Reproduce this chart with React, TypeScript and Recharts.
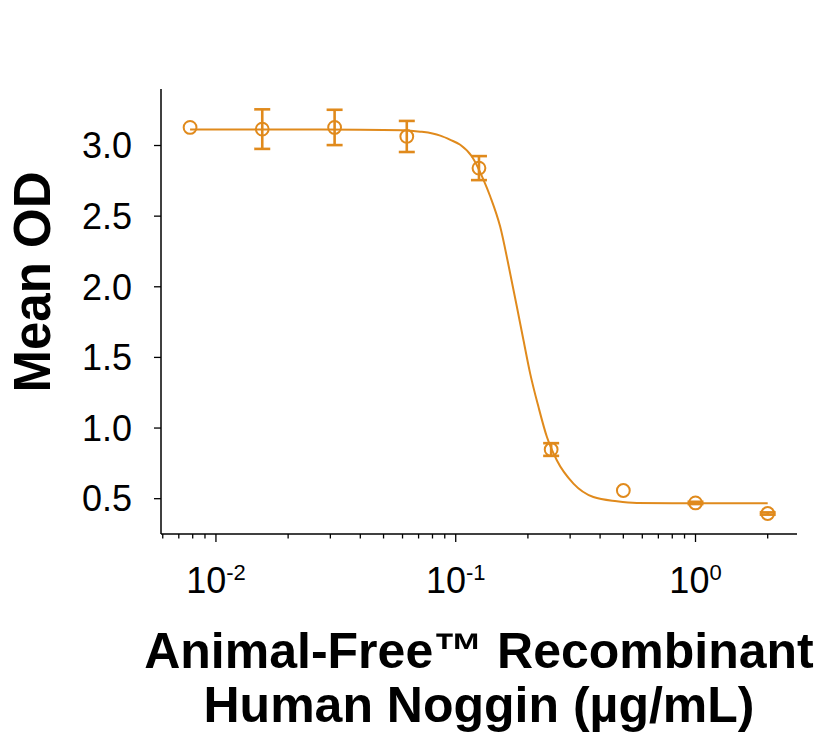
import { ComposedChart, Line, Scatter, ErrorBar, XAxis, YAxis } from 'recharts';

const ORANGE = '#E08A1C';
const FONT = '"Liberation Sans", Arial, Helvetica, sans-serif';

// measured points: dose (µg/mL), mean OD, error
const doses = [0.0078, 0.0156, 0.03125, 0.0625, 0.125, 0.25, 0.5, 1, 2];
const meanOD = [3.128, 3.116, 3.128, 3.064, 2.84, 0.848, 0.558, 0.47, 0.395];
const errOD = [0, 0.14, 0.125, 0.11, 0.085, 0.045, 0, 0.008, 0.008];

// fitted curve
const fitDose = [
  0.0078, 0.02, 0.04, 0.06, 0.0711, 0.08, 0.0862, 0.095, 0.1044, 0.1168, 0.1306, 0.1393,
  0.1532, 0.1686, 0.1799, 0.1916, 0.2043, 0.2213, 0.2399, 0.264, 0.3097, 0.375, 0.47, 0.569,
  0.8, 1.2, 2,
];
const fitOD = [
  3.113, 3.113, 3.112, 3.108, 3.098, 3.085, 3.07, 3.04, 3.005, 2.922, 2.757, 2.639,
  2.426, 2.096, 1.859, 1.623, 1.387, 1.15, 0.938, 0.772, 0.607, 0.512, 0.482, 0.47,
  0.468, 0.467, 0.467,
];

const xTicks = [
  0.006, 0.007, 0.008, 0.009, 0.01, 0.02, 0.03, 0.04, 0.05, 0.06, 0.07, 0.08, 0.09, 0.1,
  0.2, 0.3, 0.4, 0.5, 0.6, 0.7, 0.8, 0.9, 1, 2,
];
const majorTicks = [0.01, 0.1, 1];
const majorExp = ['-2', '-1', '0'];
const yTicks = [0.5, 1, 1.5, 2, 2.5, 3];

const points = doses.map((x, i) => ({ x, y: meanOD[i], err: errOD[i] }));
const curve = fitDose.map((x, i) => ({ x, y: fitOD[i] }));

function XTick({ x, y, payload }: any) {
  const idx = majorTicks.indexOf(payload.value);
  const major = idx >= 0;
  return (
    <g>
      <line x1={x} x2={x} y1={y} y2={y + (major ? 8 : 4.5)} stroke="#000" strokeWidth={1.3} />
      {major && (
        <text x={x} y={593} textAnchor="middle" fontSize={36} fill="#000" fontFamily={FONT}>
          <tspan>10</tspan>
          <tspan fontSize={22} dy={-13}>
            {majorExp[idx]}
          </tspan>
        </text>
      )}
    </g>
  );
}

function XTitle() {
  return (
    <text textAnchor="middle" fontSize={50} fontWeight="bold" fill="#000" fontFamily={FONT}>
      <tspan x={479} y={668}>Animal-Free™ Recombinant</tspan>
      <tspan x={479} y={722}>Human Noggin (µg/mL)</tspan>
    </text>
  );
}

function YTitle() {
  return (
    <text
      x={50}
      y={282}
      transform="rotate(-90 50 282)"
      textAnchor="middle"
      fontSize={51}
      fontWeight="bold"
      fill="#000"
      fontFamily={FONT}
    >
      Mean OD
    </text>
  );
}

function Ring({ cx, cy }: any) {
  return <circle cx={cx} cy={cy} r={6.4} fill="none" stroke={ORANGE} strokeWidth={2} />;
}

export default function App() {
  return (
    <div style={{ position: 'absolute', left: 0, top: 0, background: '#fff', fontFamily: FONT }}>
      <ComposedChart width={836} height={738} margin={{ top: 89, right: 39, bottom: 0, left: 0 }}>
        <XAxis
          dataKey="x"
          type="number"
          scale="log"
          domain={[0.0059, 2.65]}
          allowDataOverflow
          ticks={xTicks}
          interval={0}
          height={204}
          tickSize={0}
          tickMargin={0}
          tick={<XTick />}
          axisLine={{ stroke: '#000', strokeWidth: 1.5 }}
          label={<XTitle />}
        />
        <YAxis
          dataKey="y"
          type="number"
          domain={[0.25, 3.4]}
          allowDataOverflow
          ticks={yTicks}
          interval={0}
          width={161}
          tickSize={7}
          tickMargin={22}
          tickFormatter={(v: number) => v.toFixed(1)}
          tick={{ fontSize: 36, fill: '#000', fontFamily: FONT }}
          tickLine={{ stroke: '#000', strokeWidth: 1.3 }}
          axisLine={{ stroke: '#000', strokeWidth: 1.5 }}
          label={<YTitle />}
        />
        <Line
          data={curve}
          dataKey="y"
          type="monotone"
          stroke={ORANGE}
          strokeWidth={2}
          dot={false}
          activeDot={false}
          isAnimationActive={false}
        />
        <Scatter data={points} dataKey="y" shape={<Ring />} isAnimationActive={false}>
          <ErrorBar dataKey="err" direction="y" width={8} stroke={ORANGE} strokeWidth={2.6} />
        </Scatter>
      </ComposedChart>
    </div>
  );
}
